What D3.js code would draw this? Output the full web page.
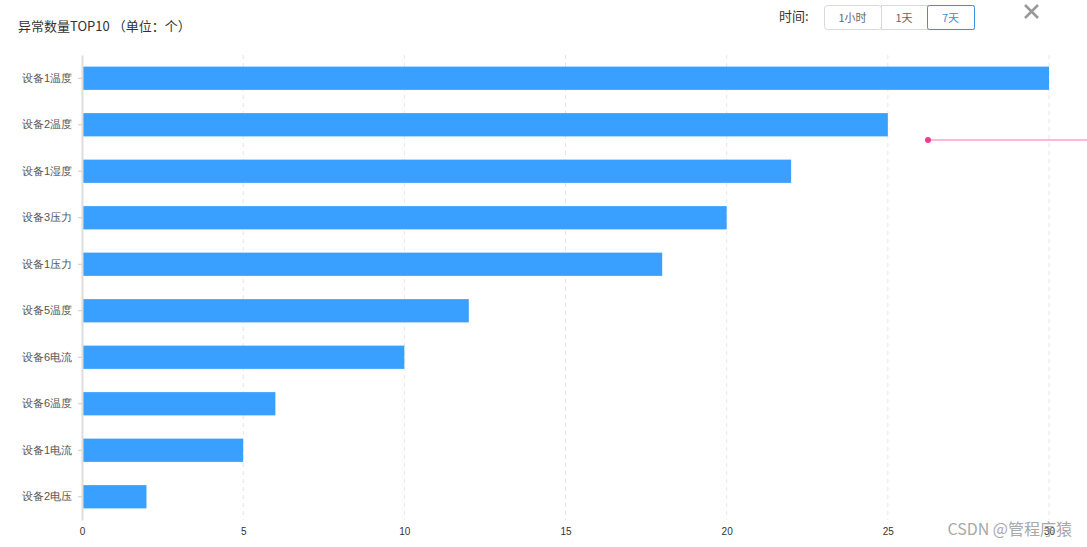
<!DOCTYPE html>
<html><head><meta charset="utf-8">
<script src="https://cdn.jsdelivr.net/npm/d3@7"></script>
<style>body{margin:0;background:#fff;}svg{display:block;font-family:"Microsoft YaHei","Noto Sans CJK SC",sans-serif;}</style>
</head><body>
<script>
const categories = ["设备1温度","设备2温度","设备1湿度","设备3压力","设备1压力","设备5温度","设备6电流","设备6温度","设备1电流","设备2电压"];
const values = [30,25,22,20,18,12,10,6,5,2];
const xTicks = [0,5,10,15,20,25,30];
const timeOptions = ["1小时","1天","7天"];

const W=1087,H=547;
const svg=d3.select("body").append("svg").attr("width",W).attr("height",H);
const x=d3.scaleLinear().domain([0,30]).range([82,1049]);
const y=d3.scaleBand().domain(categories).range([55,520]).paddingInner(0.5).paddingOuter(0.25);

// grid
svg.append("g").selectAll("line").data(xTicks.slice(1)).join("line")
  .attr("x1",d=>x(d)).attr("x2",d=>x(d)).attr("y1",55).attr("y2",520)
  .attr("stroke","#e6e6e6").attr("stroke-dasharray","4,4");

// bars
svg.append("g").selectAll("rect").data(values).join("rect")
  .attr("x",x(0)).attr("y",(d,i)=>y(categories[i]))
  .attr("width",d=>x(d)-x(0)).attr("height",y.bandwidth())
  .attr("fill","#3aa0ff");

// y axis
const ya=svg.append("g").attr("transform",`translate(${x(0)},0)`).call(d3.axisLeft(y).tickSize(4).tickSizeOuter(0).tickPadding(6));
ya.select(".domain").attr("stroke","#ddd").attr("stroke-width",2);
ya.selectAll(".tick line").attr("stroke","#ccc");
ya.selectAll("text").attr("fill","#555").attr("font-size",11);

// x axis
const xa=svg.append("g").attr("transform",`translate(0,520)`).call(d3.axisBottom(x).tickValues(xTicks).tickSize(0).tickPadding(8));
xa.select(".domain").remove();
xa.selectAll("text").attr("fill","#333").attr("font-size",10);

// title
svg.append("text").attr("x",18).attr("y",31).attr("font-size",13).attr("fill","#333").text("异常数量TOP10 （单位：个）");

// time selector
svg.append("text").attr("x",779).attr("y",21).attr("font-size",13).attr("fill","#333").text("时间:");
const bx=[824,881,927,974];
const bg=svg.append("g");
timeOptions.forEach((t,i)=>{
  bg.append("rect").attr("x",bx[i]+0.5).attr("y",5.5).attr("width",bx[i+1]-bx[i]).attr("height",24)
    .attr("rx",i==0?3:0).attr("fill","#fff").attr("stroke","#d9d9d9");
});
bg.append("rect").attr("x",bx[2]+0.5).attr("y",5.5).attr("width",bx[3]-bx[2]).attr("height",24).attr("rx",2)
  .attr("fill","#fff").attr("stroke","#3a8ee6");
timeOptions.forEach((t,i)=>{
  bg.append("text").attr("x",(bx[i]+bx[i+1])/2).attr("y",22).attr("text-anchor","middle").attr("font-size",11)
    .attr("fill",i==2?"#3a8ee6":"#666").text(t);
});

// close icon
svg.append("path").attr("d","M1025,5 L1038,18 M1038,5 L1025,18").attr("stroke","#999").attr("stroke-width",2.5);

// pink marker line
svg.append("line").attr("x1",928).attr("x2",1087).attr("y1",140).attr("y2",140).attr("stroke","#ff9ccc").attr("stroke-width",1.5);
svg.append("circle").attr("cx",928).attr("cy",140).attr("r",3).attr("fill","#f0398f");

// watermark
svg.append("text").attr("x",1072).attr("y",535).attr("text-anchor","end").attr("font-size",16).attr("fill","#999").attr("opacity",0.85).text("CSDN @管程序猿");
</script>
</body></html>
